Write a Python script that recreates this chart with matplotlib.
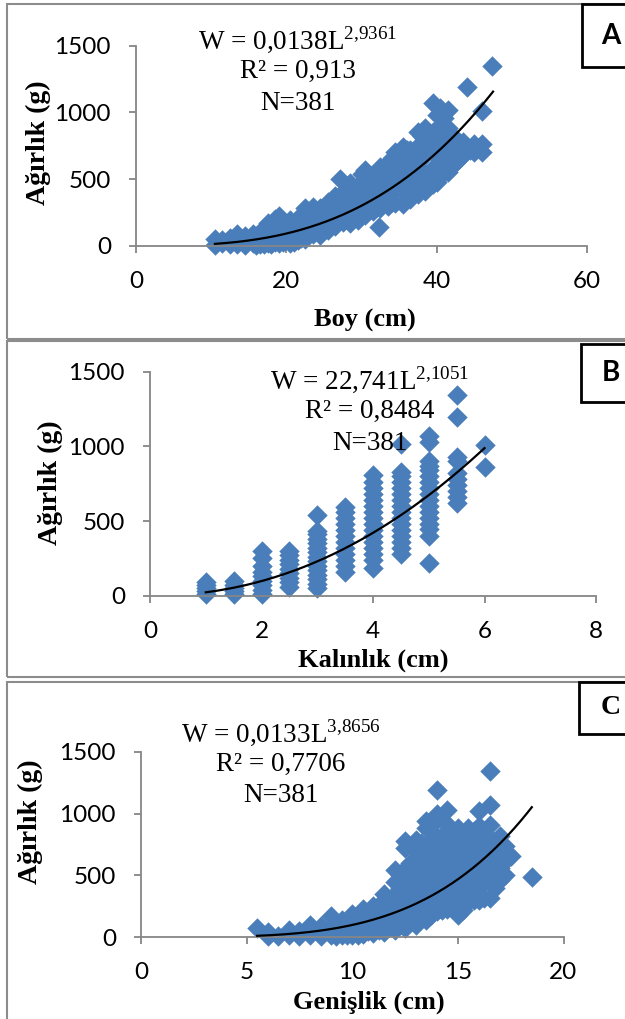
import numpy as np
import matplotlib
matplotlib.use("Agg")
import matplotlib.pyplot as plt
from matplotlib.patches import Rectangle

# --- data ---
# Panel A: Boy (cm) vs Ağırlık (g)
boy_x = [10.5, 10.5, 11.5, 11.5, 12.5, 12.5, 13.5, 13.5, 13.5, 14.5, 14.5, 14.5,
         15.5, 15.5, 15.5, 16.5, 16.5, 16.5, 17.5, 17.5, 17.5, 17.5,
         18.5, 18.5, 18.5, 18.5, 19, 19, 19.5, 19.5, 19.5,
         20.5, 20.5, 20.5, 20.5, 21.5, 21.5, 21.5, 21.5, 22.5, 22.5, 22.5, 22.5,
         23.5, 23.5, 23.5, 23.5, 24.5, 24.5, 24.5, 24.5, 25.5, 25.5, 25.5, 25.5,
         26.5, 26.5, 26.5, 26.5, 27.2, 27.5, 27.5, 27.5, 27.5,
         28.5, 28.5, 28.5, 28.5, 28.5, 29.5, 29.5, 29.5, 29.5,
         30.5, 30.5, 30.5, 30.5, 30.5, 31.5, 31.5, 31.5, 31.5, 32.3,
         32.5, 32.5, 32.5, 32.5, 32.5, 33.5, 33.5, 33.5, 33.5, 33.5,
         34.5, 34.5, 34.5, 34.5, 34.5, 35.5, 35.5, 35.5, 35.5, 35.5,
         36.5, 36.5, 36.5, 36.5, 36.5, 37.5, 37.5, 37.5, 37.5, 37.5,
         38.5, 38.5, 38.5, 38.5, 38.5, 39.5, 39.5, 39.5, 39.5, 39.5,
         40.5, 40.5, 40.5, 40.5, 40.5, 41.5, 41.5, 41.5, 41.5, 41.5,
         42.5, 42.5, 42.5, 43.5, 43.5, 44, 45, 45, 46, 46, 46, 47.3,
         16, 17, 18, 19, 20, 21, 22,
         28, 28, 28, 30, 30, 30, 30, 32, 32, 32, 32, 34, 34, 34, 34,
         36, 36, 36, 36, 38, 38, 38, 38, 40, 40, 40, 40, 40,
         41, 41, 41, 41, 42, 42, 42, 43, 43, 44.5]
boy_w = [50, 5, 20, 40, 15, 55, 90, 30, 10, 5, 45, 70,
         20, 60, 85, 15, 50, 100, 20, 70, 130, 170,
         25, 90, 150, 200, 220, 110, 30, 80, 160,
         20, 100, 190, 150, 40, 120, 210, 170, 50, 140, 230, 280,
         90, 170, 250, 290, 80, 160, 220, 280, 120, 200, 260, 330,
         150, 230, 300, 370, 500, 180, 260, 340, 400,
         170, 250, 330, 420, 470, 190, 280, 370, 450,
         230, 310, 400, 500, 570, 260, 340, 430, 520, 142,
         280, 360, 460, 540, 590, 300, 390, 480, 570, 620,
         320, 420, 520, 610, 700, 310, 440, 560, 650, 740,
         350, 470, 590, 680, 720, 390, 500, 630, 750, 850,
         410, 540, 680, 800, 880, 460, 580, 720, 850, 1070,
         520, 640, 760, 900, 1030, 550, 680, 790, 880, 1020,
         620, 700, 760, 680, 780, 1190, 700, 760, 700, 760, 1010, 1345,
         5, 10, 15, 20, 40, 30, 60,
         200, 300, 400, 250, 350, 450, 540, 290, 390, 490, 560, 330, 450, 560, 660,
         380, 500, 620, 720, 430, 560, 700, 820, 480, 600, 740, 860, 980,
         560, 700, 850, 960, 600, 720, 830, 650, 740, 720]

# Panel B: Kalınlık (cm) vs Ağırlık (g)
kal_x = ([1] * 5 + [1.5] * 5 + [2] * 9 + [2.5] * 9 + [3] * 15 + [3.5] * 12
         + [4] * 16 + [4.5] * 16 + [5] * 17 + [5.5] * 10 + [6] * 2)
kal_w = [10, 30, 50, 70, 90,
         10, 30, 50, 70, 100,
         10, 40, 70, 100, 130, 160, 200, 250, 300,
         60, 90, 120, 150, 180, 210, 240, 270, 300,
         50, 80, 110, 140, 170, 200, 230, 260, 290, 320, 350, 380, 410, 430, 540,
         160, 200, 240, 280, 320, 360, 400, 440, 480, 520, 560, 595,
         185, 240, 280, 320, 360, 400, 440, 480, 520, 560, 600, 640, 680, 720, 760, 805,
         280, 320, 360, 400, 440, 480, 520, 560, 600, 640, 680, 720, 760, 800, 830, 1015,
         220, 400, 450, 480, 520, 560, 600, 640, 680, 720, 760, 800, 840, 870, 900, 1030, 1070,
         620, 660, 700, 740, 780, 820, 900, 930, 1195, 1345,
         860, 1010]

# Panel C: Genişlik (cm) vs Ağırlık (g)
gen_x = [5.5, 6, 6, 6.5, 7, 7, 7.5, 7.5, 8, 8, 8, 8.5, 8.5, 8.5,
         9, 9, 9, 9.5, 9.5, 9.5, 10, 10, 10, 10, 10.5, 10.5, 10.5, 10.5,
         11, 11, 11, 11, 11.5, 11.5, 11.5, 11.5, 11.5,
         12, 12, 12, 12, 12, 12,
         12.5, 12.5, 12.5, 12.5, 12.5, 12.5, 12.5,
         13, 13, 13, 13, 13, 13, 13,
         13.5, 13.5, 13.5, 13.5, 13.5, 13.5, 13.5, 13.5,
         14, 14, 14, 14, 14, 14, 14, 14,
         14.5, 14.5, 14.5, 14.5, 14.5, 14.5, 14.5, 14.5,
         15, 15, 15, 15, 15, 15, 15,
         15.5, 15.5, 15.5, 15.5, 15.5, 15.5,
         16, 16, 16, 16, 16, 16, 16,
         16.5, 16.5, 16.5, 16.5, 16.5, 16.5, 16.5, 16.5,
         17, 17, 17, 17, 17.5, 18.5,
         9.25, 9.75, 10.25, 10.75, 10.75, 10.75, 11.25, 11.25, 11.25,
         11.75, 11.75, 11.75, 12.25, 12.25, 12.25, 12.25, 12.25,
         12.75, 12.75, 12.75, 12.75, 12.75,
         13.25, 13.25, 13.25, 13.25, 13.25, 13.25,
         13.75, 13.75, 13.75, 13.75, 13.75, 13.75, 13.75,
         14.25, 14.25, 14.25, 14.25, 14.25, 14.25, 14.25,
         14.75, 14.75, 14.75, 14.75, 14.75, 14.75,
         15.25, 15.25, 15.25, 15.25, 15.25, 15.25,
         15.75, 15.75, 15.75, 15.75, 15.75, 15.75,
         16.25, 16.25, 16.25, 16.25, 16.25,
         16.75, 16.75, 16.75, 16.75, 17.25, 17.25, 17.25]
gen_w = [75, 10, 40, 10, 20, 55, 10, 50, 15, 60, 95, 10, 50, 90,
         15, 70, 170, 20, 80, 140, 20, 70, 130, 190, 25, 90, 160, 230,
         30, 110, 180, 250, 40, 130, 220, 300, 350,
         60, 150, 250, 350, 450, 540,
         70, 180, 300, 420, 550, 720, 780,
         100, 220, 340, 460, 580, 700, 790,
         140, 260, 380, 500, 620, 740, 880, 940,
         210, 330, 450, 570, 690, 810, 1000, 1190,
         230, 350, 470, 590, 710, 830, 920, 1030,
         180, 300, 420, 540, 660, 780, 880,
         280, 400, 520, 640, 760, 880,
         300, 420, 540, 660, 780, 900, 1020,
         320, 450, 580, 700, 800, 910, 1070, 1345,
         460, 560, 680, 820, 660, 490,
         10, 15, 15, 50, 120, 200, 60, 140, 220,
         80, 180, 280, 100, 200, 300, 400, 500,
         120, 240, 360, 480, 600,
         150, 270, 390, 510, 630, 760,
         180, 300, 420, 540, 660, 780, 900,
         220, 340, 460, 580, 700, 820, 950,
         250, 370, 490, 610, 730, 850,
         220, 340, 460, 580, 700, 820,
         300, 420, 540, 660, 780, 860,
         320, 440, 560, 680, 800,
         400, 520, 640, 760, 500, 620, 740]

# power trend lines W = a * L^b
fits = {"A": (0.0138, 2.9361), "B": (22.741, 2.1051), "C": (0.0133, 3.8656)}

W, H = 625, 1019
fig = plt.figure(figsize=(W / 100, H / 100), dpi=100)

plt.rcParams["mathtext.fontset"] = "custom"
plt.rcParams["mathtext.rm"] = "Liberation Serif"

blue = "#4A7EBB"
grey = "#868686"
tick_font = "Lato"
serif = "Liberation Serif"


def fx(x):
    return x / W


def fy(y):
    return 1 - y / H


def add_panel(left, right, y0, y1500, xs, ys, xmax, xstep, fit, xrange_fit):
    ax = fig.add_axes([fx(left), fy(y0), (right - left) / W, (y0 - y1500) / H])
    ax.scatter(xs, ys, marker="D", s=108, color=blue, linewidths=0,
               clip_on=False, zorder=2)
    a, b = fit
    L = np.linspace(xrange_fit[0], xrange_fit[1], 200)
    ax.plot(L, a * L ** b, color="black", lw=1.6, zorder=3, clip_on=False)
    ax.set_xlim(0, xmax)
    ax.set_ylim(0, 1500)
    ax.set_xticks(np.arange(0, xmax + 0.01, xstep))
    ax.set_yticks([0, 500, 1000, 1500])
    for s in ["top", "right"]:
        ax.spines[s].set_visible(False)
    for s in ["left", "bottom"]:
        ax.spines[s].set_color(grey)
        ax.spines[s].set_linewidth(1.3)
    ax.tick_params(direction="out", length=5, width=1.3, color=grey,
                   labelsize=17.5, pad=13)
    for lab in ax.get_xticklabels() + ax.get_yticklabels():
        lab.set_family(tick_font)
    ax.patch.set_alpha(0)
    return ax


add_panel(136, 587, 245.7, 45.7, boy_x, boy_w, 60, 20, fits["A"], (10.5, 47.5))
add_panel(150, 596, 595.7, 371.7, kal_x, kal_w, 8, 2, fits["B"], (1, 6))
add_panel(141, 563.5, 937, 752, gen_x, gen_w, 20, 5, fits["C"], (5.5, 18.5))

# panel borders
for top, bot in [(4, 339), (341, 677), (682, 1030)]:
    fig.patches.append(Rectangle((fx(7), fy(bot)), (640 - 7) / W, (bot - top) / H,
                                 transform=fig.transFigure, fill=False,
                                 edgecolor="#8c8c8c", lw=1.5, zorder=0))

# label boxes
for left, top, bot, lab, fam in [(582, 4, 67, "A", tick_font), (581, 344, 402, "B", tick_font),
                                 (579, 682, 734, "C", serif)]:
    fig.patches.append(Rectangle((fx(left), fy(bot)), (640 - left) / W, (bot - top) / H,
                                 transform=fig.transFigure, facecolor="white",
                                 edgecolor="black", lw=2, zorder=5))
    fig.text(fx(611), fy((top + bot) / 2), lab, family=fam, weight="bold",
             fontsize=20, ha="center", va="center", zorder=6)

# axis titles
label_kw = dict(family=serif, weight="bold", fontsize=19, ha="center", va="center")
fig.text(fx(365), fy(320), "Boy (cm)", **label_kw)
fig.text(fx(373), fy(660), "Kalınlık (cm)", **label_kw)
fig.text(fx(369), fy(1002), "Genişlik (cm)", **label_kw)
ylab_kw = dict(label_kw, fontsize=20)
fig.text(fx(38), fy(143), "Ağırlık (g)", rotation=90, **ylab_kw)
fig.text(fx(50), fy(483), "Ağırlık (g)", rotation=90, **ylab_kw)
fig.text(fx(30), fy(822), "Ağırlık (g)", rotation=90, **ylab_kw)

# equations
eq_kw = dict(family=serif, fontsize=19.5, ha="center", va="center")
for cx, y, lines in [
    (298, 40, [r"W = 0,0138L$^{2{,}9361}$", "R² = 0,913", "N=381"]),
    (370, 380, [r"W = 22,741L$^{2{,}1051}$", "R² = 0,8484", "N=381"]),
    (281, 733, [r"W = 0,0133L$^{3{,}8656}$", "R² = 0,7706", "N=381"]),
]:
    fig.text(fx(cx), fy(y), lines[0], **eq_kw)
    fig.text(fx(cx), fy(y + 31), lines[1], **eq_kw)
    fig.text(fx(cx), fy(y + 63), lines[2], **eq_kw)

fig.savefig("out.png", dpi=100)
